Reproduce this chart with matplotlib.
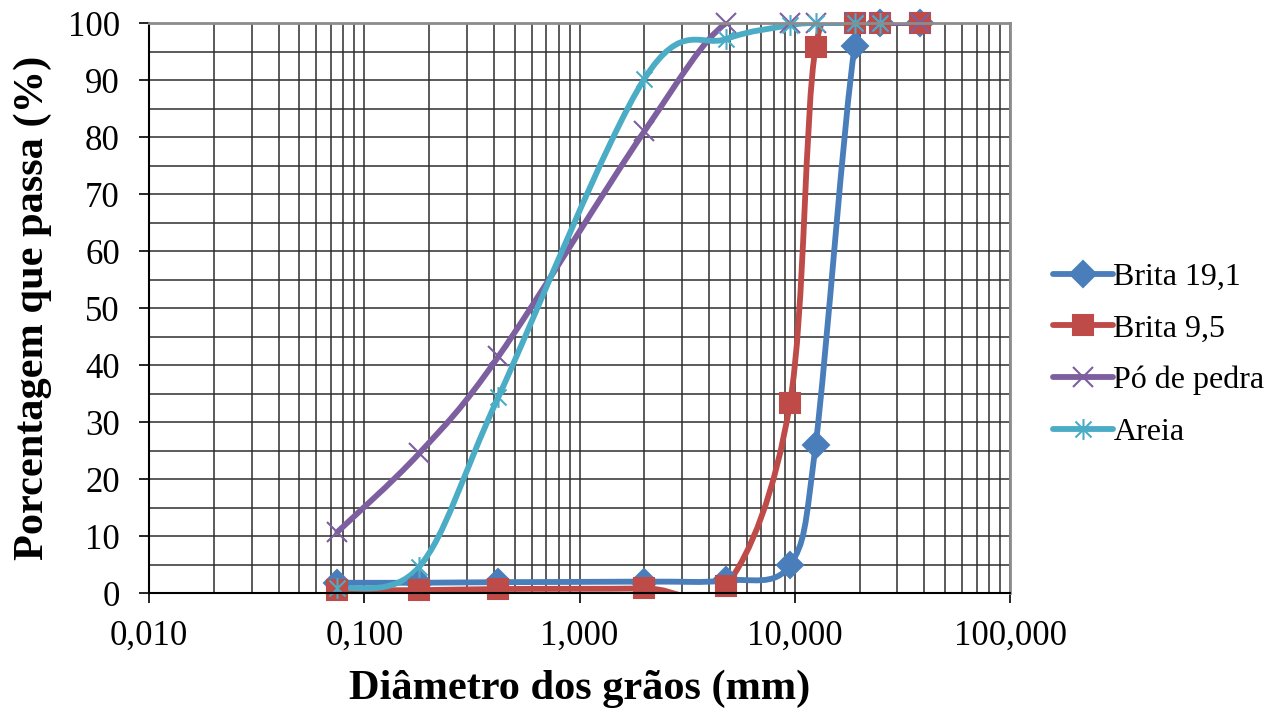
import numpy as np
import matplotlib
matplotlib.use("Agg")
import matplotlib.pyplot as plt
from matplotlib.path import Path
from matplotlib.patches import PathPatch
from matplotlib.lines import Line2D
from matplotlib.ticker import FixedLocator, NullFormatter

plt.rcParams['font.family'] = ['Liberation Serif', 'DejaVu Serif']

# sieve openings (mm) and percent passing for each material
sieves = [0.075, 0.18, 0.42, 2.0, 4.8, 9.5, 12.5, 19.0, 25.0, 38.0]
brita19 = [1.8, 1.8, 1.9, 2.0, 2.2, 4.9, 26.0, 96.0, 100.0, 100.0]
brita95 = [0.5, 0.5, 0.7, 0.8, 1.3, 33.3, 95.8, 100.0, 100.0, 100.0]
po_pedra = [10.7, 24.5, 41.5, 81.0, 100.0, 100.0, 100.0, 100.0, 100.0, 100.0]
areia_sieves = [0.075, 0.18, 0.42, 2.0, 4.8, 9.5, 12.5, 19.0, 25.0]
areia = [0.8, 4.6, 34.4, 90.2, 97.2, 99.6, 100.0, 100.0, 100.0]

names = ['Brita 19,1', 'Brita 9,5', 'Pó de pedra', 'Areia']
colors = ['#4A7EBB', '#BE4B48', '#7D5FA0', '#4BACC6']
xticklabels = ['0,010', '0,100', '1,000', '10,000', '100,000']

# Excel-like asterisk marker: x plus vertical bar
star = Path([(-1, -1), (1, 1), (-1, 1), (1, -1), (0, -1.3), (0, 1.3)],
            [Path.MOVETO, Path.LINETO, Path.MOVETO, Path.LINETO, Path.MOVETO, Path.LINETO])


def smooth_path(xs, ys):
    # Excel style smoothed line: bezier with catmull-rom control points in log-x space
    u = np.log10(np.array(xs, dtype=float))
    v = np.array(ys, dtype=float)
    n = len(u)
    verts = [(xs[0], ys[0])]
    codes = [Path.MOVETO]
    for i in range(n - 1):
        a = max(i - 1, 0)
        b = min(i + 2, n - 1)
        c1u = u[i] + (u[i + 1] - u[a]) / 6.0
        c1v = v[i] + (v[i + 1] - v[a]) / 6.0
        c2u = u[i + 1] - (u[b] - u[i]) / 6.0
        c2v = v[i + 1] - (v[b] - v[i]) / 6.0
        verts += [(10 ** c1u, c1v), (10 ** c2u, c2v), (xs[i + 1], ys[i + 1])]
        codes += [Path.CURVE4] * 3
    return Path(verts, codes)


fig = plt.figure(figsize=(12.8, 7.13), dpi=100)
ax = fig.add_axes([0.1164, 0.1683, 0.6727, 0.7994])
ax.set_xscale('log')
ax.set_xlim(0.01, 100)
ax.set_ylim(0, 100)

# grid
ax.xaxis.set_minor_locator(FixedLocator([m * 10.0 ** e for e in range(-2, 2) for m in range(2, 10)]))
ax.xaxis.set_minor_formatter(NullFormatter())
ax.set_yticks(np.arange(0, 101, 10))
ax.set_yticks(np.arange(5, 100, 10), minor=True)
ax.grid(True, which='both', color='#2e2e2e', lw=1.1)
ax.set_axisbelow(True)

series = [(sieves, brita19, 'D', 13), (sieves, brita95, 's', 14),
          (sieves, po_pedra, 'x', 14), (areia_sieves, areia, star, 15)]
handles = []
for (xs, ys, mk, ms), name, col in zip(series, names, colors):
    ax.add_patch(PathPatch(smooth_path(xs, ys), fill=False, edgecolor=col,
                           lw=4.2, capstyle='round', joinstyle='round'))
    ax.plot(xs, ys, ls='none', marker=mk, ms=ms, color=col, mec=col,
            mew=1.5, clip_on=False)
    handles.append(Line2D([], [], color=col, lw=4.2, marker=mk, ms=ms,
                          mec=col, mew=1.5, solid_capstyle='round'))

ax.set_xticks([0.01, 0.1, 1, 10, 100])
ax.set_xticklabels(xticklabels)
ax.tick_params(axis='both', which='major', labelsize=25, length=7, width=1.2,
               direction='out', color='black')
ax.tick_params(axis='x', which='major', pad=12)
ax.tick_params(axis='y', which='major', pad=14)
ax.tick_params(which='minor', length=0)

for s in ['top', 'right']:
    ax.spines[s].set_color('#8c8c8c')
    ax.spines[s].set_linewidth(2)
for s in ['left', 'bottom']:
    ax.spines[s].set_color('black')
    ax.spines[s].set_linewidth(1.5)

ax.set_xlabel('Diâmetro dos grãos (mm)', fontsize=30.5, fontweight='bold', labelpad=12)
ax.set_ylabel('Porcentagem que passa (%)', fontsize=30.5, fontweight='bold')
ax.yaxis.set_label_coords(-0.113, 0.5)

leg = fig.legend(handles, names, loc='center left', bbox_to_anchor=(0.8225, 0.5025),
                 frameon=False, fontsize=23, handlelength=1.9, handletextpad=0.0,
                 labelspacing=0.7, borderaxespad=0, borderpad=0)

fig.savefig('out.png', dpi=100)
